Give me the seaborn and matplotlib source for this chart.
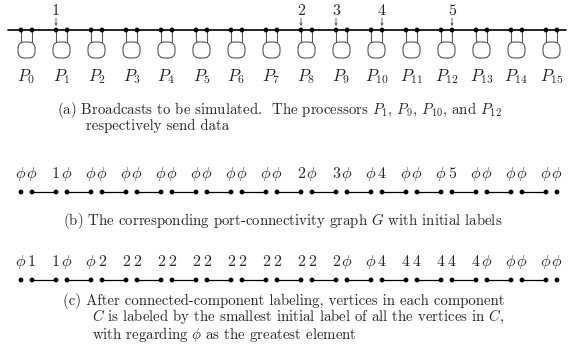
import matplotlib
matplotlib.use('Agg')
import matplotlib.pyplot as plt
import pandas as pd
import seaborn as sns
from matplotlib.patches import FancyBboxPatch

# processors on the bus and the broadcasts they send
procs = list(range(16))
sender_procs = [1, 8, 9, 10, 12]
sender_ids = ['1', '2', '3', '4', '5']
sender_ports = ['L', 'L', 'L', 'R', 'R']

# port labels per processor (left port, right port)
init_labels = ['φφ', '1φ', 'φφ', 'φφ', 'φφ', 'φφ', 'φφ', 'φφ',
               '2φ', '3φ', 'φ4', 'φφ', 'φ5', 'φφ', 'φφ', 'φφ']
final_labels = ['φ1', '1φ', 'φ2', '22', '22', '22', '22', '22',
                '22', '2φ', 'φ4', '44', '44', '4φ', 'φφ', 'φφ']

# layout (pixel rows, index units along x)
W, H = 568, 353
PX0, PITCH = 26.5, 35.0
OFF = 5.5 / PITCH
Y_BUS, Y_B, Y_C = 30, 192, 280
CAP_FS = 10.7

sns.set_theme(style='white')
plt.rcParams['font.family'] = 'cmr10'
plt.rcParams['mathtext.fontset'] = 'cm'
plt.rcParams['axes.unicode_minus'] = False

fig = plt.figure(figsize=(W / 100, H / 100), dpi=100)
ax = fig.add_axes([0, 0, 1, 1])
ax.set_xlim(-PX0 / PITCH, (W - PX0) / PITCH)
ax.set_ylim(H, 0)
ax.axis('off')

port_df = pd.DataFrame(
    [{'proc': p, 'side': sd, 'x': p + (-OFF if sd == 'L' else OFF)}
     for p in procs for sd in ('L', 'R')])

# (a) the bus line with processors hanging off it
bus = pd.DataFrame({'x': [procs[0] - 0.53, procs[-1] + 0.41],
                    'y': [Y_BUS, Y_BUS]})
sns.lineplot(data=bus, x='x', y='y', color='black', lw=1.2, ax=ax)
for p in procs:
    for s in (-OFF, OFF):
        ax.plot([p + s, p + s], [Y_BUS, 42], color='#555555', lw=0.8)
    ax.add_patch(FancyBboxPatch((p - 8.5 / PITCH, 42), 17 / PITCH, 16,
                                boxstyle='round,pad=0,rounding_size=0.19',
                                mutation_aspect=PITCH, fc='white',
                                ec='#555555', lw=0.8))
    ax.text(p, 81, '$P_{%d}$' % p, ha='center', va='baseline', fontsize=12)

for p, sid, side in zip(sender_procs, sender_ids, sender_ports):
    x = p - OFF if side == 'L' else p + OFF
    ax.annotate('', xy=(x, 26), xytext=(x, 18),
                arrowprops=dict(arrowstyle='->', lw=0.5, color='#333333',
                                mutation_scale=4, shrinkA=0, shrinkB=0))
    ax.text(x, 15, sid, ha='center', va='baseline', fontsize=11.5)

sns.scatterplot(data=port_df.assign(y=Y_BUS), x='x', y='y', color='black',
                s=12, edgecolor='none', ax=ax, zorder=5)


# (b) and (c) port-connectivity graph with labels
def graph_row(labels, y):
    edges = []
    for p in procs[:-1]:
        edges.append({'seg': p, 'x': p + OFF, 'y': y})
        edges.append({'seg': p, 'x': p + 1 - OFF, 'y': y})
    edf = pd.DataFrame(edges)
    sns.lineplot(data=edf, x='x', y='y', units='seg', estimator=None,
                 color='black', lw=0.9, ax=ax)
    sns.scatterplot(data=port_df.assign(y=y), x='x', y='y', color='black',
                    s=12, edgecolor='none', ax=ax, zorder=5)
    for p, lab in zip(procs, labels):
        for ch, s in zip(lab, (-OFF, OFF)):
            txt = r'$\phi$' if ch == 'φ' else ch
            ax.text(p + s, y - 14, txt, ha='center', va='baseline',
                    fontsize=11.5)


graph_row(init_labels, Y_B)
graph_row(final_labels, Y_C)


def caption(px, py, s):
    fig.text(px / W, 1 - py / H, s, ha='left', va='baseline',
             fontsize=CAP_FS)


caption(57, 114, r'(a) Broadcasts to be simulated.  The processors $P_1$, '
                 r'$P_9$, $P_{10}$, and $P_{12}$')
caption(86, 130, 'respectively send data')
caption(63, 225, r'(b) The corresponding port-connectivity graph $G$ '
                 r'with initial labels')
caption(63, 305, '(c) After connected-component labeling, vertices in '
                 'each component')
caption(92, 320.5, r'$C$ is labeled by the smallest initial label of all the '
                   r'vertices in $C$,')
caption(92, 339, r'with regarding $\phi$ as the greatest element')

fig.savefig('out.png', dpi=100, facecolor='white')
